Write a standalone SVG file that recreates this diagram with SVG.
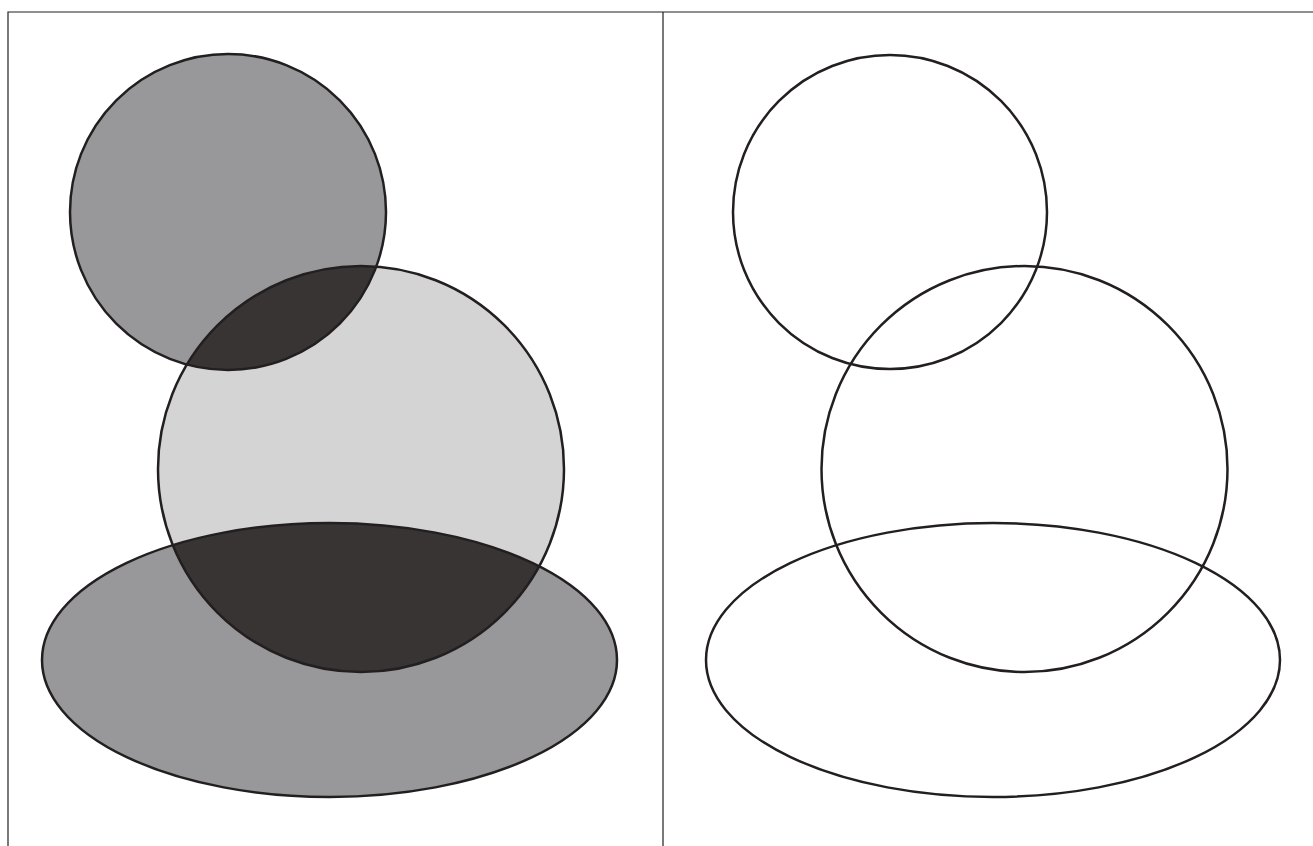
<svg xmlns="http://www.w3.org/2000/svg" width="1313" height="846" viewBox="0 0 1313 846">
<style>
.frame{fill:none;stroke:#231f20;stroke-width:1.2}
.edge{fill:none;stroke:#231f20;stroke-width:2.5}
.mid{fill:#98989a}
.light{fill:#d4d4d4}
.dark{fill:#383434}
</style>
<defs>
<clipPath id="clipSmall"><circle cx="228" cy="212" r="158"/></clipPath>
<clipPath id="clipEllipse"><ellipse cx="329.5" cy="660" rx="287.5" ry="137"/></clipPath>
</defs>
<rect width="1313" height="846" fill="#ffffff"/>
<g id="frame">
<path class="frame" d="M8 846 V12 H1313 M663 12 V846"/>
</g>
<g id="left-panel">
<g id="left-small-circle"><circle class="mid" cx="228" cy="212" r="158"/></g>
<g id="left-big-circle"><circle class="light" cx="361" cy="469" r="203"/></g>
<g id="left-ellipse"><ellipse class="mid" cx="329.5" cy="660" rx="287.5" ry="137"/></g>
<g id="left-overlap-top"><circle class="dark" cx="361" cy="469" r="203" clip-path="url(#clipSmall)"/></g>
<g id="left-overlap-bottom"><circle class="dark" cx="361" cy="469" r="203" clip-path="url(#clipEllipse)"/></g>
<g id="left-outlines">
<circle class="edge" cx="228" cy="212" r="158"/>
<circle class="edge" cx="361" cy="469" r="203"/>
<ellipse class="edge" cx="329.5" cy="660" rx="287.5" ry="137"/>
</g>
</g>
<g id="right-panel">
<g id="right-small-circle"><circle class="edge" cx="890" cy="212" r="157"/></g>
<g id="right-big-circle"><circle class="edge" cx="1024.5" cy="469" r="203"/></g>
<g id="right-ellipse"><ellipse class="edge" cx="993" cy="660" rx="287" ry="137"/></g>
</g>
</svg>
